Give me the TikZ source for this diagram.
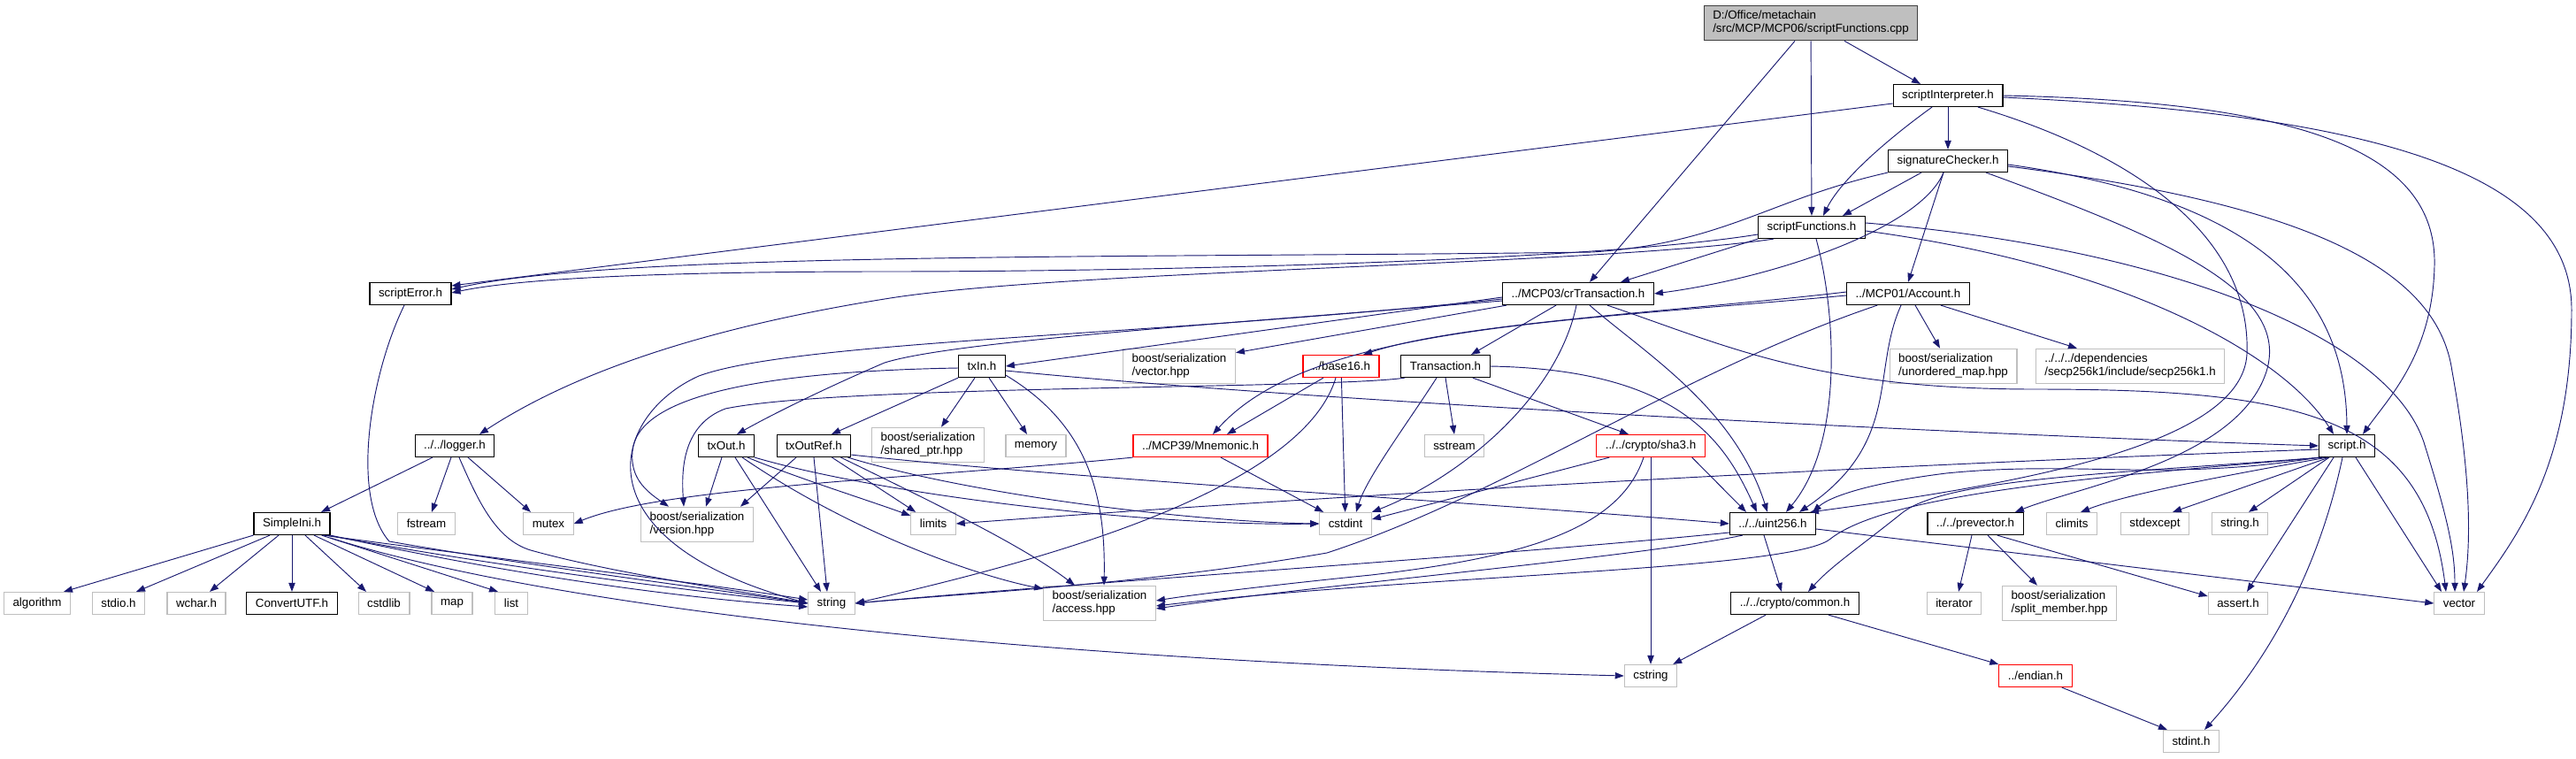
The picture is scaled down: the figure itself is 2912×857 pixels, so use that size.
\documentclass[tikz,border=0pt]{standalone}
\usepackage{fontspec}
\setmainfont{Liberation Sans}
\usetikzlibrary{arrows.meta,calc}

\definecolor{edgeblue}{HTML}{191970}
\definecolor{sysgray}{HTML}{BFBFBF}
\definecolor{rootgray}{HTML}{BFBFBF}
\definecolor{rootedge}{HTML}{404040}

\tikzset{
  box/.style={draw=black, line width=0.9pt, fill=white, inner xsep=7.5pt, inner ysep=4.5pt,
    minimum height=18.75pt, align=left, font=\fontsize{10}{11.25}\selectfont},
  rootbox/.style={box, fill=rootgray, draw=rootedge},
  sysbox/.style={box, draw=sysgray},
  redbox/.style={box, draw=red},
  dep/.style={draw=edgeblue, line width=0.7pt, -{Triangle[length=7.5pt,width=5.5pt]}},
}

\begin{document}
\begin{tikzpicture}[x=0.75pt,y=-0.75pt]
    \useasboundingbox (0,0) rectangle (2912,857);

    % Top rows
    \node[rootbox] (root) at (2047,26) {D:/Office/metachain\\/src/MCP/MCP06/scriptFunctions.cpp};
    \node[box] (interp) at (2202,108) {scriptInterpreter.h};
    \node[box] (sigchk) at (2202,182) {signatureChecker.h};
    \node[box] (sfunc) at (2048,257) {scriptFunctions.h};
    \node[box] (serror) at (464,332) {scriptError.h};
    \node[box] (crtx) at (1784,332) {../MCP03/crTransaction.h};
    \node[box] (account) at (2157,332) {../MCP01/Account.h};

    % Row 414
    \node[box] (txin) at (1110,414) {txIn.h};
    \node[sysbox] (vechpp) at (1333,414) {boost/serialization\\/vector.hpp};
    \node[redbox] (base16) at (1516,414) {../base16.h};
    \node[box] (tx) at (1634,414) {Transaction.h};
    \node[sysbox] (umap) at (2208,414) {boost/serialization\\/unordered\_map.hpp};
    \node[sysbox] (secp) at (2408,414) {../../../dependencies\\/secp256k1/include/secp256k1.h};

    % Row 504
    \node[box] (logger) at (514,504) {../../logger.h};
    \node[box] (txout) at (821,504) {txOut.h};
    \node[box] (txoutref) at (920,504) {txOutRef.h};
    \node[sysbox] (sharedptr) at (1049,503) {boost/serialization\\/shared\_ptr.hpp};
    \node[sysbox] (memory) at (1171,504) {memory};
    \node[redbox] (mnemonic) at (1357,504) {../MCP39/Mnemonic.h};
    \node[sysbox] (sstream) at (1644,504) {sstream};
    \node[redbox] (sha3) at (1866,504) {../../crypto/sha3.h};
    \node[box] (script) at (2653,504) {script.h};

    % Row 592
    \node[box] (simpleini) at (330,592) {SimpleIni.h};
    \node[sysbox] (fstream) at (482,592) {fstream};
    \node[sysbox] (mutex) at (620,592) {mutex};
    \node[sysbox] (verhpp) at (788,593) {boost/serialization\\/version.hpp};
    \node[sysbox] (limits) at (1055,592) {limits};
    \node[sysbox] (cstdint) at (1521,592) {cstdint};
    \node[box] (uint256) at (2004,592) {../../uint256.h};
    \node[box] (prevector) at (2233,592) {../../prevector.h};
    \node[sysbox] (climits) at (2342,592) {climits};
    \node[sysbox] (stdexcept) at (2436,592) {stdexcept};
    \node[sysbox] (stringh) at (2532,592) {string.h};

    % Row 682
    \node[sysbox] (algorithm) at (42,682) {algorithm};
    \node[sysbox] (stdio) at (134,682) {stdio.h};
    \node[sysbox] (wchar) at (222,682) {wchar.h};
    \node[box] (convutf) at (330,682) {ConvertUTF.h};
    \node[sysbox] (cstdlib) at (434,682) {cstdlib};
    \node[sysbox] (map) at (511,682) {map};
    \node[sysbox] (list) at (578,682) {list};
    \node[sysbox] (string) at (940,682) {string};
    \node[sysbox] (access) at (1243,682) {boost/serialization\\/access.hpp};
    \node[box] (common) at (2029,682) {../../crypto/common.h};
    \node[sysbox] (iterator) at (2209,682) {iterator};
    \node[sysbox] (splitmem) at (2328,682) {boost/serialization\\/split\_member.hpp};
    \node[sysbox] (assert) at (2530,682) {assert.h};
    \node[sysbox] (vector) at (2780,682) {vector};

    % Bottom rows
    \node[sysbox] (cstring) at (1866,764) {cstring};
    \node[redbox] (endian) at (2301,764) {../endian.h};
    \node[sysbox] (stdint) at (2477,838) {stdint.h};

    % scriptFunctions.cpp
    \draw[dep] ($(root.south)+(38,0)$) -- ($(interp.north)+(-31,0)$);
    \draw[dep] (root) -- (sfunc);
    \draw[dep] ($(root.south)+(-18,0)$) -- ($(crtx.north)+(13,0)$);

    % scriptInterpreter.h
    \draw[dep] ($(interp.west)+(0,9)$) -- ($(serror.east)+(0,-9)$);
    \draw[dep] ($(interp.south)+(-18,0)$) .. controls (2130,160) and (2080,205) .. ($(sfunc.north)+(13,0)$);
    \draw[dep] (interp) -- (sigchk);
    \draw[dep] ($(interp.south)+(34,0)$) .. controls (2400,170) and (2545,260) .. (2540,400) .. controls (2535,500) and (2300,545) .. ($(uint256.north)+(42,0)$);
    \draw[dep] (interp.east) .. controls (2600,115) and (2755,170) .. (2752,300) .. controls (2750,400) and (2700,450) .. ($(script.north)+(18,0)$);
    \draw[dep] ($(interp.east)+(0,2)$) .. controls (2700,130) and (2907,200) .. (2907,350) .. controls (2907,520) and (2850,600) .. ($(vector.north)+(20,0)$);

    % signatureChecker.h
    \draw[dep] (sigchk.south west) .. controls (2000,225) and (1950,275) .. (1800,285) .. controls (1300,292) and (700,284) .. ($(serror.east)+(0,-5)$);
    \draw[dep] ($(sigchk.south)+(-30,0)$) -- ($(sfunc.north)+(35,0)$);
    \draw[dep] ($(sigchk.south)+(-5,0)$) .. controls (2170,260) and (2000,315) .. (crtx.east);
    \draw[dep] ($(sigchk.south)+(-5,0)$) -- (account.north);
    \draw[dep] ($(sigchk.east)+(0,4)$) .. controls (2550,225) and (2652,330) .. (script.north);
    \draw[dep] ($(sigchk.east)+(0,6)$) .. controls (2600,230) and (2755,300) .. (2772,420) .. controls (2790,520) and (2795,600) .. ($(vector.north)+(5,0)$);
    \draw[dep] ($(sigchk.south east)+(-25,0)$) .. controls (2450,270) and (2590,330) .. (2562,420) .. controls (2530,520) and (2350,550) .. ($(prevector.north)+(45,0)$);

    % scriptFunctions.h
    \draw[dep] (sfunc.south west) -- ($(crtx.north)+(48,0)$);
    \draw[dep] ($(sfunc.west)+(0,8)$) .. controls (1800,295) and (1300,307) .. (1000,307) .. controls (800,307) and (600,312) .. ($(serror.east)+(0,-1)$);
    \draw[dep] ($(sfunc.south west)+(18,0)$) .. controls (1800,300) and (1200,305) .. (1000,338) .. controls (800,370) and (650,420) .. ($(logger.north)+(28,0)$);
    \draw[dep] ($(sfunc.south)+(5,0)$) .. controls (2075,350) and (2085,500) .. ($(uint256.north)+(15,0)$);
    \draw[dep] ($(sfunc.east)+(0,4)$) .. controls (2400,300) and (2580,400) .. ($(script.north)+(-15,0)$);
    \draw[dep] ($(sfunc.east)+(0,-5)$) .. controls (2450,280) and (2700,380) .. (2740,500) .. controls (2765,580) and (2775,620) .. ($(vector.north)+(-5,0)$);

    % Account.h
    \draw[dep] ($(account.south)+(8,0)$) -- ($(umap.north)+(-15,0)$);
    \draw[dep] ($(account.south east)+(-33,0)$) -- ($(secp.north)+(-60,0)$);
    \draw[dep] ($(account.south)+(-8,0)$) .. controls (2115,420) and (2150,500) .. ($(uint256.north)+(30,0)$);
    \draw[dep] ($(account.west)+(0,-2)$) .. controls (1900,352) and (1650,365) .. ($(base16.north)+(25,0)$);
    \draw[dep] ($(account.west)+(0,2)$) .. controls (1750,365) and (1480,370) .. ($(mnemonic.north)+(14,0)$);
    \draw[dep] ($(account.south west)+(35,0)$) .. controls (1900,420) and (1700,560) .. (1500,625) .. controls (1300,660) and (1100,670) .. (string.east);

    % crTransaction.h
    \draw[dep] ($(crtx.west)+(0,4)$) -- (txin.east);
    \draw[dep] ($(crtx.south west)+(5,0)$) -- ($(vechpp.north east)+(0,5)$);
    \draw[dep] ($(crtx.south)+(-25,0)$) -- ($(tx.north)+(29,0)$);
    \draw[dep] ($(crtx.south)+(-2,0)$) .. controls (1760,450) and (1650,540) .. (cstdint.north east);
    \draw[dep] ($(crtx.south)+(13,0)$) .. controls (1860,400) and (1960,460) .. ($(uint256.north)+(-6,0)$);
    \draw[dep] ($(crtx.south)+(33,0)$) .. controls (1950,390) and (2050,440) .. (2300,440) .. controls (2600,440) and (2740,470) .. ($(vector.north)+(-15,0)$);
    \draw[dep] ($(crtx.west)+(0,6)$) .. controls (1300,380) and (900,385) .. (790,425) .. controls (690,470) and (650,610) .. (string.west);
    \draw[dep] ($(crtx.west)+(0,8)$) .. controls (1400,365) and (1080,385) .. (1000,410) .. controls (930,440) and (870,470) .. ($(txout.north)+(12,0)$);

    % Transaction.h
    \draw[dep] ($(tx.south west)+(5,0)$) .. controls (1500,440) and (950,435) .. (820,462) .. controls (772,480) and (770,530) .. ($(verhpp.north)+(-15,0)$);
    \draw[dep] (tx.south) -- (sstream.north);
    \draw[dep] ($(tx.south east)+(-20,0)$) -- ($(sha3.north)+(-25,0)$);
    \draw[dep] ($(tx.south)+(-10,0)$) .. controls (1590,480) and (1545,540) .. ($(cstdint.north)+(12,0)$);
    \draw[dep] (tx.east) .. controls (1900,418) and (1950,500) .. ($(uint256.north)+(-18,0)$);

    % base16.h, Mnemonic.h
    \draw[dep] ($(base16.south)+(-20,0)$) -- ($(mnemonic.north)+(30,0)$);
    \draw[dep] (base16) -- (cstdint);
    \draw[dep] ($(base16.south)+(-6,0)$) .. controls (1470,560) and (1150,640) .. (string.east);
    \draw[dep] (mnemonic.south west) .. controls (1050,540) and (750,550) .. (mutex.east);
    \draw[dep] ($(mnemonic.south)+(23,0)$) -- ($(cstdint.north west)+(5,0)$);

    % sha3.h
    \draw[dep] ($(sha3.south west)+(15,0)$) -- ($(cstdint.east)+(0,-5)$);
    \draw[dep] (sha3) -- (cstring);
    \draw[dep] ($(sha3.south east)+(-15,0)$) -- ($(uint256.north)+(-30,0)$);
    \draw[dep] ($(sha3.south)+(-8,0)$) .. controls (1830,600) and (1720,630) .. (1550,650) .. controls (1450,660) and (1350,672) .. ($(access.east)+(0,-3)$);

    % txIn.h
    \draw[dep] (txin.south west) -- ($(txoutref.north)+(20,0)$);
    \draw[dep] ($(txin.south)+(-8,0)$) -- ($(sharedptr.north)+(15,0)$);
    \draw[dep] ($(txin.south)+(8,0)$) -- ($(memory.north)+(-10,0)$);
    \draw[dep] ($(txin.south east)+(0,-3)$) .. controls (1230,480) and (1250,560) .. ($(access.north)+(5,0)$);
    \draw[dep] ($(txin.west)+(0,2)$) .. controls (850,420) and (720,450) .. (715,510) .. controls (712,540) and (730,555) .. ($(verhpp.north)+(-32,0)$);
    \draw[dep] ($(txin.east)+(0,5)$) .. controls (1500,455) and (2200,490) .. (script.west);

    % txOut.h
    \draw[dep] ($(txout.south)+(-5,0)$) -- ($(verhpp.north)+(10,0)$);
    \draw[dep] ($(txout.south)+(10,0)$) -- ($(string.north)+(-12,0)$);
    \draw[dep] ($(txout.south east)+(-8,0)$) .. controls (900,540) and (980,565) .. ($(limits.north west)+(0,4)$);
    \draw[dep] ($(txout.south east)+(-14,0)$) .. controls (960,600) and (1100,650) .. ($(access.north west)+(0,4)$);
    \draw[dep] (txout.south east) .. controls (1000,560) and (1300,595) .. (cstdint.west);

    % txOutRef.h
    \draw[dep] ($(txoutref.south)+(-20,0)$) -- ($(verhpp.north east)+(-15,0)$);
    \draw[dep] (txoutref.south) -- ($(string.north)+(-5,0)$);
    \draw[dep] ($(txoutref.south east)+(-22,0)$) -- ($(limits.north west)+(6,0)$);
    \draw[dep] ($(txoutref.south east)+(-12,0)$) .. controls (1080,580) and (1160,620) .. ($(access.north)+(-28,0)$);
    \draw[dep] ($(txoutref.south east)+(-4,0)$) .. controls (1100,560) and (1350,590) .. (cstdint.west);
    \draw[dep] ($(txoutref.south east)+(0,-3)$) .. controls (1200,540) and (1700,570) .. (uint256.west);

    % script.h
    \draw[dep] ($(script.west)+(0,4)$) .. controls (2000,530) and (1400,568) .. (limits.east);
    \draw[dep] (script.south west) .. controls (2450,545) and (2350,520) .. (2200,535) .. controls (2120,545) and (2070,560) .. ($(uint256.north)+(45,0)$);
    \draw[dep] ($(script.south west)+(3,0)$) .. controls (2400,535) and (2200,540) .. (2150,580) .. controls (2100,620) and (2070,640) .. ($(common.north)+(15,0)$);
    \draw[dep] ($(script.south west)+(6,0)$) .. controls (2350,540) and (2130,560) .. (2068,610) .. controls (2020,645) and (1600,650) .. ($(access.east)+(0,3)$);
    \draw[dep] ($(script.south west)+(10,0)$) .. controls (2500,540) and (2400,560) .. ($(climits.north)+(10,0)$);
    \draw[dep] ($(script.south west)+(12,0)$) -- ($(stdexcept.north)+(20,0)$);
    \draw[dep] ($(script.south)+(-20,0)$) -- ($(stringh.north)+(10,0)$);
    \draw[dep] ($(script.south)+(-15,0)$) -- ($(assert.north)+(10,0)$);
    \draw[dep] ($(script.south)+(-5,0)$) .. controls (2620,650) and (2560,750) .. ($(stdint.north)+(15,0)$);
    \draw[dep] ($(script.south)+(10,0)$) -- ($(vector.north)+(-20,0)$);

    % uint256.h
    \draw[dep] ($(uint256.south)+(-10,0)$) -- ($(common.north)+(-15,0)$);
    \draw[dep] ($(uint256.east)+(0,6)$) -- (vector.west);
    \draw[dep] ($(uint256.west)+(0,10)$) .. controls (1700,628) and (1200,660) .. (string.east);
    \draw[dep] ($(uint256.south west)+(15,0)$) .. controls (1850,630) and (1500,660) .. ($(access.east)+(0,6)$);

    % common.h, endian.h, prevector.h
    \draw[dep] ($(common.south west)+(40,0)$) -- ($(cstring.north east)+(-5,0)$);
    \draw[dep] ($(common.south east)+(-35,0)$) -- (endian.north west);
    \draw[dep] ($(endian.south east)+(-12,0)$) -- ($(stdint.north west)+(5,0)$);
    \draw[dep] ($(prevector.south)+(-4,0)$) -- ($(iterator.north)+(5,0)$);
    \draw[dep] ($(prevector.south)+(14,0)$) -- ($(splitmem.north)+(-25,0)$);
    \draw[dep] ($(prevector.south east)+(-30,0)$) -- ($(assert.west)+(0,-8)$);

    % scriptError.h, logger.h
    \draw[dep] ($(serror.south)+(-7,0)$) .. controls (420,420) and (395,560) .. (440,612) .. controls (600,640) and (800,665) .. (string.west);
    \draw[dep] ($(logger.south)+(-25,0)$) -- ($(simpleini.north)+(33,0)$);
    \draw[dep] ($(logger.south)+(-4,0)$) -- ($(fstream.north)+(6,0)$);
    \draw[dep] ($(logger.south)+(15,0)$) -- ($(mutex.north)+(-20,0)$);
    \draw[dep] ($(logger.south)+(5,0)$) .. controls (540,565) and (560,610) .. (600,622) .. controls (700,650) and (850,670) .. (string.west);

    % SimpleIni.h
    \draw[dep] (simpleini.south west) -- ($(algorithm.north)+(30,0)$);
    \draw[dep] ($(simpleini.south)+(-25,0)$) -- ($(stdio.north)+(20,0)$);
    \draw[dep] ($(simpleini.south)+(-15,0)$) -- ($(wchar.north)+(15,0)$);
    \draw[dep] (simpleini) -- (convutf);
    \draw[dep] ($(simpleini.south)+(15,0)$) -- ($(cstdlib.north)+(-20,0)$);
    \draw[dep] ($(simpleini.south)+(25,0)$) -- ($(map.north)+(-20,0)$);
    \draw[dep] ($(simpleini.south east)+(-10,0)$) -- ($(list.north)+(-15,0)$);
    \draw[dep] ($(simpleini.south east)+(-8,0)$) .. controls (550,630) and (800,660) .. ($(string.west)+(0,-4)$);
    \draw[dep] ($(simpleini.south east)+(-4,0)$) .. controls (560,640) and (780,668) .. (string.west);
    \draw[dep] (simpleini.south east) .. controls (580,650) and (760,675) .. ($(string.west)+(0,4)$);
    \draw[dep] ($(simpleini.south east)+(0,3)$) .. controls (600,680) and (1100,745) .. (cstring.west);
\end{tikzpicture}
\end{document}
